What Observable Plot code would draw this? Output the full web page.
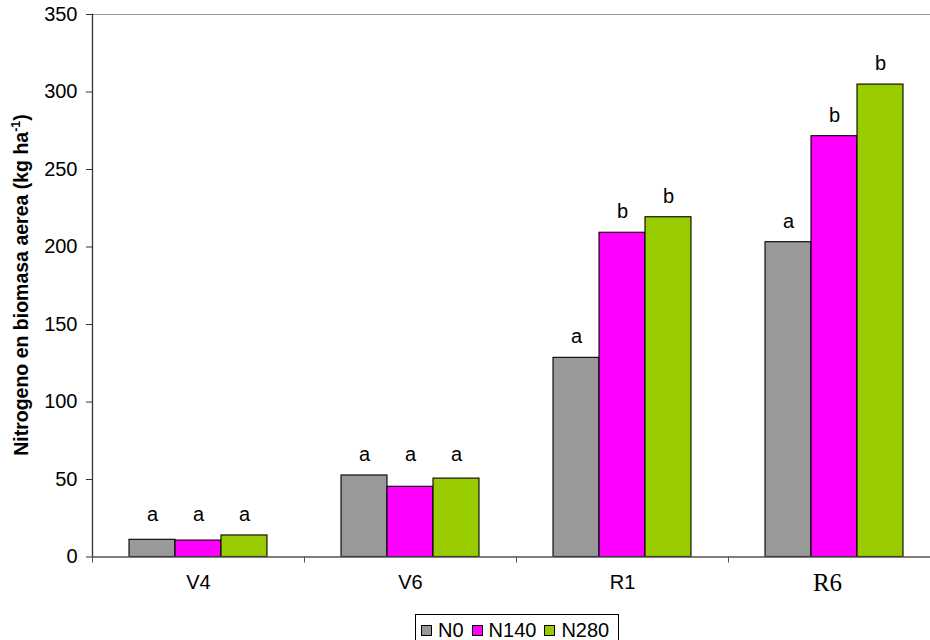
<!DOCTYPE html>
<html>
<head>
<meta charset="utf-8">
<script src="https://cdn.jsdelivr.net/npm/d3@7"></script>
<script src="https://cdn.jsdelivr.net/npm/@observablehq/plot@0.6"></script>
<style>
  body { margin: 0; background: #fff; font-family: "Liberation Sans", Arial, sans-serif; }
  #wrap { position: relative; width: 930px; height: 640px; overflow: hidden; background: #fff; }
  #legend { position: absolute; left: 415px; top: 614px; width: 204px; height: 32px; box-sizing: border-box;
            border: 1px solid #000; display: flex; align-items: flex-start; padding: 5px 0 0 5px;
            font-size: 20px; line-height: 20px; color: #000; }
  .item { display: flex; align-items: center; margin-right: 8px; }
  .sw { width: 9px; height: 9px; border: 1px solid #000; margin-right: 6px; }
</style>
</head>
<body>
<div id="wrap">
  <div id="chart"></div>
  <div id="legend"></div>
</div>
<script>
const categories = ["V4", "V6", "R1", "R6"];
const series = ["N0", "N140", "N280"];
const valuesN0 = [11.1, 52.6, 128.5, 203.1];
const valuesN140 = [10.6, 45.3, 209.2, 271.5];
const valuesN280 = [13.9, 50.6, 219.2, 304.8];
const lettersN0 = ["a", "a", "a", "a"];
const lettersN140 = ["a", "a", "b", "b"];
const lettersN280 = ["a", "a", "b", "b"];
const yTicks = [0, 50, 100, 150, 200, 250, 300, 350];
const seriesColors = ["#999999", "#FF00FF", "#99CC00"];

const valueTable = [valuesN0, valuesN140, valuesN280];
const letterTable = [lettersN0, lettersN140, lettersN280];

const rows = [];
categories.forEach((cat, i) => {
  const vals = valueTable.map(v => v[i]);
  const lets = letterTable.map(l => l[i]);
  const same = lets.every(l => l === lets[0]);
  const gmax = Math.max(...vals);
  series.forEach((s, j) => {
    rows.push({cat, series: s, value: vals[j], letter: lets[j], labelY: same ? gmax : vals[j]});
  });
});

const sans = "'Liberation Sans', Arial, sans-serif";
const serif = "'Liberation Serif', 'Times New Roman', serif";

const chart = Plot.plot({
  width: 930,
  height: 610,
  marginTop: 14,
  marginBottom: 53.5,
  marginLeft: 92,
  marginRight: -10,
  style: {fontFamily: sans, fontSize: "20px", background: "white", color: "black"},
  fx: {domain: categories, padding: 0, axis: null, label: null},
  x: {domain: series, paddingInner: 0, paddingOuter: 0.77, axis: null},
  y: {domain: [0, 350], axis: null},
  color: {domain: series, range: seriesColors},
  marks: [
    Plot.ruleY([350], {stroke: "#999", strokeWidth: 1.2}),
    Plot.barY(rows, {fx: "cat", x: "series", y: "value", fill: "series", stroke: "black", strokeWidth: 1.1}),
    Plot.text(rows, {fx: "cat", x: "series", y: "labelY", text: "letter", dy: -21, fontSize: 20, fill: "black"}),
    Plot.ruleY([0], {stroke: "#555", strokeWidth: 1.3}),
    Plot.axisY({ticks: yTicks, tickSize: 6, tickPadding: 9, label: null, fontSize: 20, stroke: "#333", fill: "black"}),
    Plot.frame({anchor: "left", facetAnchor: "left", stroke: "#333", strokeWidth: 1.3}),
    Plot.axisFx({anchor: "bottom", tickSize: 6, dx: -106, tickFormat: () => "", stroke: "#555", label: null}),
    Plot.text(categories.filter(c => c !== "R6"), {fx: d => d, text: d => d, frameAnchor: "bottom", dy: 31.5, fontSize: 20, fill: "black"}),
    Plot.text(categories.filter(c => c === "R6"), {fx: d => d, text: d => d, frameAnchor: "bottom", dy: 33.5, dx: -7, fontSize: 25, fontFamily: serif, fill: "black"})
  ]
});

document.getElementById("chart").appendChild(chart);

// y-axis title with superscript
const svg = d3.select(chart);
const t = svg.append("text")
  .attr("transform", "translate(28,285) rotate(-90)")
  .attr("text-anchor", "middle")
  .attr("font-family", sans)
  .attr("font-weight", "bold")
  .attr("font-size", 19.5)
  .attr("fill", "black");
t.append("tspan").text("Nitrogeno en biomasa aerea (kg ha");
t.append("tspan").attr("dy", -8).attr("font-size", 12.5).text("-1");
t.append("tspan").attr("dy", 8).text(")");

// legend
const legend = d3.select("#legend");
series.forEach((s, j) => {
  const item = legend.append("div").attr("class", "item");
  item.append("div").attr("class", "sw").style("background", seriesColors[j]);
  item.append("span").text(s);
});
</script>
</body>
</html>
